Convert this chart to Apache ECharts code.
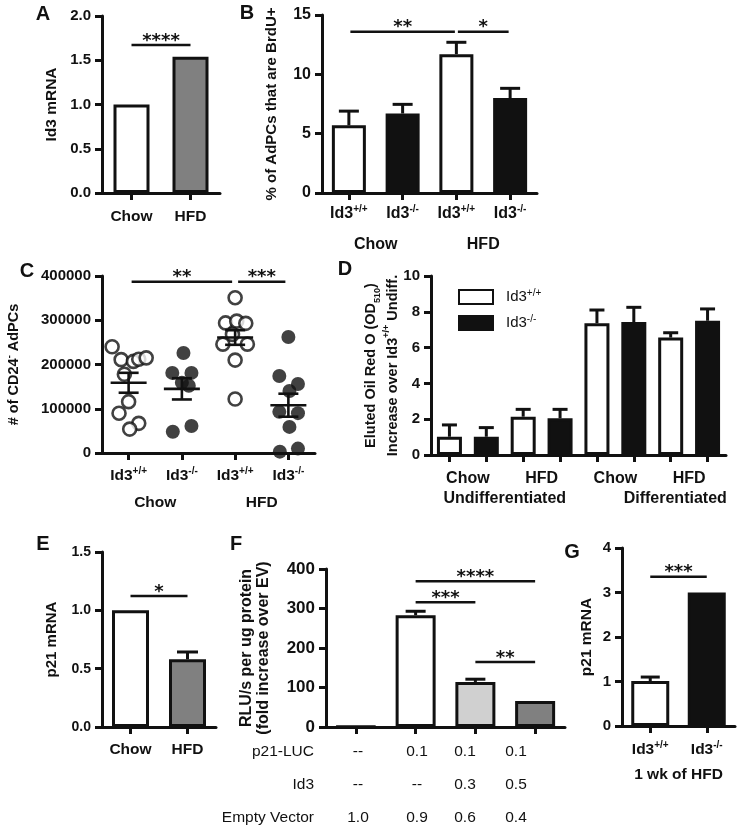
<!DOCTYPE html>
<html><head><meta charset="utf-8">
<script src="https://cdn.jsdelivr.net/npm/echarts@6/dist/echarts.min.js"></script>
<style>html,body{margin:0;padding:0;background:#fff}#c{width:737px;height:829px}</style>
</head><body><div id="c"></div>
<script>
// ---------------- data ----------------
const aCats = ['Chow', 'HFD'];
const aValues = [1.0, 1.54];
const aSig = [[0, 1, 1.672]];
const aSigLabels = ['****'];

const genoCats = ['Id3+/+', 'Id3-/-', 'Id3+/+', 'Id3-/-'];
const dietGroups = ['Chow', 'HFD'];

const bValues = [5.7, 6.7, 11.7, 8.0];
const bErrors = [1.2, 0.77, 1.0, 0.82];
const bSig = [[0, 2, 13.59], [2, 3, 13.59]];
const bSigLabels = ['**', '*'];

const cWtChowOffsets = [-0.31, -0.14, 0.09, 0.19, 0.33, -0.08, 0.0, -0.18, 0.19, 0.02];
const cWtChowValues = [240000, 211000, 207000, 212000, 215000, 178000, 116000, 90000, 67000, 54000];
const cKoChowOffsets = [0.03, -0.18, 0.18, 0.0, 0.13, -0.17, 0.18];
const cKoChowValues = [226000, 181000, 181000, 159000, 152000, 48000, 61000];
const cWtHfdOffsets = [0.0, -0.18, 0.03, 0.2, -0.23, 0.23, -0.05, 0.0, 0.0];
const cWtHfdValues = [351000, 294000, 298000, 293000, 246000, 246000, 268000, 210000, 122000];
const cKoHfdOffsets = [0.0, -0.17, 0.18, 0.02, -0.17, 0.18, 0.02, -0.16, 0.18];
const cKoHfdValues = [262000, 174000, 156000, 140000, 93000, 90000, 59000, 3000, 10000];
const cMeans = [158700, 145000, 261000, 108000];
const cSems = [22500, 24000, 16500, 26000];
const cSig = [[0, 2, 387000], [2, 3, 387000]];
const cSigLabels = ['**', '***'];

const dWtValues = [1.02, 2.14, 7.36, 6.56];
const dWtErrors = [0.66, 0.41, 0.74, 0.27];
const dKoValues = [1.02, 2.05, 7.43, 7.5];
const dKoErrors = [0.51, 0.5, 0.82, 0.66];
const dDiet = ['Chow', 'HFD', 'Chow', 'HFD'];
const dStages = ['Undifferentiated', 'Differentiated'];
const dLegend = ['Id3+/+', 'Id3-/-'];

const eCats = ['Chow', 'HFD'];
const eValues = [1.0, 0.58];
const eErrors = [0.0, 0.063];
const eSig = [[0, 1, 1.123]];
const eSigLabels = ['*'];

const fValues = [1, 283, 114, 66];
const fErrors = [0, 10, 7, 0];
const fSig = [[1, 3, 368.9], [1, 2, 315.7], [2, 3, 164.6]];
const fSigLabels = ['****', '***', '**'];
const fRowLabels = ['p21-LUC', 'Id3', 'Empty Vector'];
const fLuc = ['--', '0.1', '0.1', '0.1'];
const fId3 = ['--', '--', '0.3', '0.5'];
const fEmpty = ['1.0', '0.9', '0.6', '0.4'];

const gCats = ['Id3+/+', 'Id3-/-'];
const gValues = [1.01, 3.0];
const gErrors = [0.09, 0];
const gSig = [[0, 1, 3.355]];
const gSigLabels = ['***'];
const gGroup = ['1 wk of HFD'];

// ---------------- style / layout ----------------
const FONT = '"Liberation Sans", Arial, Helvetica, sans-serif';
const STARFONT = '"DejaVu Sans", sans-serif';
const INK = '#111111';
const WHITE = '#ffffff';
const GRAY = '#808080';
const LIGHT = '#d0d0d0';

const grids = [
  {left: 102, top: 16, width: 118, height: 177},   // A
  {left: 322, top: 15, width: 215, height: 178},   // B
  {left: 102, top: 276, width: 213, height: 177},  // C
  {left: 431, top: 276, width: 295, height: 179},  // D
  {left: 102, top: 552, width: 114, height: 175},  // E
  {left: 326, top: 569, width: 239, height: 158},  // F
  {left: 622, top: 548, width: 113, height: 178}   // G
];

function richFor(fs) {
  return {
    m: {fontSize: fs, fontWeight: 'bold', fontFamily: FONT, color: INK, lineHeight: fs + 3},
    s: {fontSize: Math.round(fs * 0.65), fontWeight: 'bold', fontFamily: FONT, color: INK, verticalAlign: 'top'},
    b: {fontSize: Math.round(fs * 0.65), fontWeight: 'bold', fontFamily: FONT, color: INK, verticalAlign: 'bottom'}
  };
}
function supFmt(v) {
  const m = /^Id3(.+)$/.exec(v);
  return m ? '{m|Id3}{s|' + m[1] + '}' : '{m|' + v + '}';
}

function catAxis(gridIndex, data, fs, margin, showLabel) {
  return {
    type: 'category', gridIndex, data, position: 'bottom', boundaryGap: true,
    axisLine: {show: true, onZero: false, lineStyle: {color: INK, width: 3}},
    axisTick: {show: true, alignWithLabel: true, interval: 0, length: 7, lineStyle: {color: INK, width: 3}},
    axisLabel: {show: showLabel !== false, interval: 0, margin, color: INK, fontSize: fs, fontWeight: 'bold',
      fontFamily: FONT, formatter: supFmt, rich: richFor(fs)},
    splitLine: {show: false}
  };
}
function groupAxis(gridIndex, data, fs, margin) {
  return {
    type: 'category', gridIndex, data, position: 'bottom', boundaryGap: true,
    axisLine: {show: false}, axisTick: {show: false}, splitLine: {show: false},
    axisLabel: {show: true, interval: 0, margin, color: INK, fontSize: fs, fontWeight: 'bold', fontFamily: FONT}
  };
}
function valAxis(gridIndex, max, interval, fs, dec, name, nameGap, nameFs, lineHeight) {
  return {
    type: 'value', gridIndex, min: 0, max, interval, position: 'left',
    axisLine: {show: true, onZero: false, lineStyle: {color: INK, width: 3}},
    axisTick: {show: true, length: 7, lineStyle: {color: INK, width: 3}},
    axisLabel: {show: true, margin: 11, color: INK, fontSize: fs, fontWeight: 'bold', fontFamily: FONT,
      formatter: v => v.toFixed(dec)},
    splitLine: {show: false},
    name, nameLocation: 'middle', nameGap, nameRotate: 90, nameMoveOverlap: false,
    nameTextStyle: {color: INK, fontSize: nameFs, fontWeight: 'bold', fontFamily: FONT,
      lineHeight: lineHeight || nameFs + 2, rich: richFor(nameFs)}
  };
}

// x axes
const xAxes = [
  catAxis(0, aCats, 15.5, 14),                 // 0 A
  catAxis(1, genoCats, 16, 11),                // 1 B
  groupAxis(1, dietGroups, 16, 44),            // 2 B groups
  catAxis(2, genoCats, 15.5, 13),              // 3 C
  groupAxis(2, dietGroups, 15.5, 42),          // 4 C groups
  {type: 'value', gridIndex: 2, min: -0.5, max: 3.5, show: false}, // 5 C scatter
  catAxis(3, ['', '', '', '', '', '', '', ''], 16, 16, false), // 6 D
  groupAxis(3, dDiet, 16, 16),                 // 7 D diet
  groupAxis(3, [dStages[0], {value: dStages[1], textStyle: {padding: [0, 0, 0, 46]}}], 16, 36), // 8 D stage
  catAxis(4, eCats, 15.5, 13),                 // 9 E
  catAxis(5, ['', '', '', ''], 16, 14, false), // 10 F
  catAxis(6, gCats, 15.5, 14),                 // 11 G
  groupAxis(6, gGroup, 15.5, 41)               // 12 G group
];

const yAxes = [
  valAxis(0, 2, 0.5, 15, 1, '{m|Id3 mRNA}', 41, 15.5),
  valAxis(1, 15, 5, 16, 0, '{m|% of AdPCs that are BrdU+}', 41, 15),
  valAxis(2, 400000, 100000, 15, 0, '{m|# of CD24}{s|-}{m| AdPCs}', 79, 14.5),
  valAxis(3, 10, 2, 15, 0, '{m|Eluted Oil Red O (OD}{b|510}{m|)}\n{m|Increase over Id3}{s|+/+}{m| Undiff.}', 27, 14.5, 22),
  valAxis(4, 1.5, 0.5, 14, 1, '{m|p21 mRNA}', 41, 15),
  valAxis(5, 400, 100, 17, 0, '{m|RLU/s per ug protein}\n{m|(fold increase over EV)}', 54, 16, 17),
  valAxis(6, 4, 1, 15, 0, '{m|p21 mRNA}', 26, 15.5)
];
yAxes[3].nameTextStyle.rich.m.lineHeight = 22;
yAxes[3].nameTextStyle.rich.s.lineHeight = 22;
yAxes[3].nameTextStyle.rich.b.lineHeight = 22;
yAxes[5].nameTextStyle.rich.m.lineHeight = 17;

// ---------------- series helpers ----------------
function barSeries(xi, yi, values, colors, barWidth, extra) {
  return Object.assign({
    type: 'bar', xAxisIndex: xi, yAxisIndex: yi, barWidth, z: 3, silent: true,
    itemStyle: {borderColor: INK, borderWidth: 3},
    data: values.map((v, i) => ({value: v, itemStyle: {color: colors[i]}}))
  }, extra || {});
}
function errorSeries(xi, yi, rows, capW) {
  return {
    type: 'custom', xAxisIndex: xi, yAxisIndex: yi, z: 2, silent: true,
    data: rows, encode: {x: 0, y: [1, 2]},
    renderItem(params, api) {
      const i = api.value(0);
      const p1 = api.coord([i, api.value(1)]);
      const p2 = api.coord([i, api.value(2)]);
      if (p1[1] - p2[1] < 1) return null;
      return {type: 'group', children: [
        {type: 'line', shape: {x1: p1[0], y1: p1[1], x2: p2[0], y2: p2[1]}, style: {stroke: INK, lineWidth: 3}},
        {type: 'line', shape: {x1: p2[0] - capW / 2, y1: p2[1], x2: p2[0] + capW / 2, y2: p2[1]}, style: {stroke: INK, lineWidth: 3}}
      ]};
    }
  };
}
function errRows(values, errors, idx) {
  return values.map((v, i) => [idx ? idx(i) : i, v, v + errors[i]]);
}
function sigSeries(xi, yi, rows, labels, gap) {
  return {
    type: 'custom', xAxisIndex: xi, yAxisIndex: yi, z: 4, silent: true,
    data: rows, encode: {x: [0, 1], y: 2},
    renderItem(params, api) {
      const a = api.coord([api.value(0), api.value(2)]);
      const b = api.coord([api.value(1), api.value(2)]);
      return {type: 'group', children: [
        {type: 'line', shape: {x1: a[0] + gap, y1: a[1], x2: b[0] - gap, y2: b[1]}, style: {stroke: INK, lineWidth: 2.5}},
        {type: 'text', x: (a[0] + b[0]) / 2, y: a[1] + 5,
          style: {text: labels[params.dataIndex], fill: INK, fontSize: 18, fontWeight: 'bold', fontFamily: STARFONT, align: 'center', verticalAlign: 'bottom'}}
      ]};
    }
  };
}
function scatterSeries(offsets, values, g, open) {
  return {
    type: 'scatter', xAxisIndex: 5, yAxisIndex: 2, z: 3, silent: true,
    symbol: 'circle', symbolSize: open ? 13 : 14,
    itemStyle: open ? {color: WHITE, borderColor: INK, borderWidth: 2.6} : {color: INK, borderColor: INK, borderWidth: 0},
    data: values.map((v, i) => [g + offsets[i], v])
  };
}

const seriesList = [
  // A
  barSeries(0, 0, aValues, [WHITE, GRAY], 36),
  sigSeries(0, 0, aSig, aSigLabels, 0),
  // B
  barSeries(1, 1, bValues, [WHITE, INK, WHITE, INK], 34),
  errorSeries(1, 1, errRows(bValues, bErrors), 20),
  sigSeries(1, 1, bSig, bSigLabels, 1.5),
  // C
  scatterSeries(cWtChowOffsets, cWtChowValues, 0, true),
  scatterSeries(cKoChowOffsets, cKoChowValues, 1, false),
  scatterSeries(cWtHfdOffsets, cWtHfdValues, 2, true),
  scatterSeries(cKoHfdOffsets, cKoHfdValues, 3, false),
  {
    type: 'custom', xAxisIndex: 3, yAxisIndex: 2, z: 5, silent: true,
    data: cMeans.map((m, i) => [i, m, m - cSems[i], m + cSems[i]]),
    encode: {x: 0, y: [1, 2, 3]},
    renderItem(params, api) {
      const i = api.value(0);
      const pm = api.coord([i, api.value(1)]);
      const pl = api.coord([i, api.value(2)]);
      const ph = api.coord([i, api.value(3)]);
      const st = {stroke: INK, lineWidth: 2.6};
      return {type: 'group', children: [
        {type: 'line', shape: {x1: pm[0] - 18, y1: pm[1], x2: pm[0] + 18, y2: pm[1]}, style: st},
        {type: 'line', shape: {x1: pl[0], y1: pl[1], x2: ph[0], y2: ph[1]}, style: st},
        {type: 'line', shape: {x1: pl[0] - 10, y1: pl[1], x2: pl[0] + 10, y2: pl[1]}, style: st},
        {type: 'line', shape: {x1: ph[0] - 10, y1: ph[1], x2: ph[0] + 10, y2: ph[1]}, style: st}
      ]};
    }
  },
  sigSeries(3, 2, cSig, cSigLabels, 3),
  // D
  {
    name: dLegend[0], type: 'bar', xAxisIndex: 6, yAxisIndex: 3, stack: 'd', barWidth: 25, z: 3, silent: true,
    itemStyle: {color: WHITE, borderColor: INK, borderWidth: 3},
    data: [0, 1, 2, 3, 4, 5, 6, 7].map(k => k % 2 === 0 ? dWtValues[k / 2] : '-')
  },
  {
    name: dLegend[1], type: 'bar', xAxisIndex: 6, yAxisIndex: 3, stack: 'd', barWidth: 25, z: 3, silent: true,
    itemStyle: {color: INK, borderColor: INK, borderWidth: 3},
    data: [0, 1, 2, 3, 4, 5, 6, 7].map(k => k % 2 === 1 ? dKoValues[(k - 1) / 2] : '-')
  },
  errorSeries(6, 3, errRows(dWtValues, dWtErrors, i => 2 * i).concat(errRows(dKoValues, dKoErrors, i => 2 * i + 1)), 15),
  // E
  barSeries(9, 4, eValues, [WHITE, GRAY], 37),
  errorSeries(9, 4, errRows(eValues, eErrors), 21),
  sigSeries(9, 4, eSig, eSigLabels, 0),
  // F
  barSeries(10, 5, fValues, [WHITE, WHITE, LIGHT, GRAY], 40),
  errorSeries(10, 5, errRows(fValues, fErrors), 20),
  sigSeries(10, 5, fSig, fSigLabels, 0),
  // G
  barSeries(11, 6, gValues, [WHITE, INK], 38),
  errorSeries(11, 6, errRows(gValues, gErrors), 19),
  sigSeries(11, 6, gSig, gSigLabels, 0)
];

// ---------------- graphics: panel letters & F table ----------------
const letters = [['A', 43, 14], ['B', 247, 13], ['C', 27, 271], ['D', 345, 269], ['E', 43, 544], ['F', 236, 544], ['G', 572, 552]];
const fColX = [358, 417, 465, 516];
const fRowY = [752, 785, 818];
const graphics = [];
letters.forEach(([t, x, y]) => graphics.push({type: 'text', x, y, silent: true,
  style: {text: t, fill: INK, fontSize: 20, fontWeight: 'bold', fontFamily: FONT, align: 'center', verticalAlign: 'middle'}}));
fRowLabels.forEach((t, r) => graphics.push({type: 'text', x: 314, y: fRowY[r], silent: true,
  style: {text: t, fill: INK, fontSize: 15.5, fontFamily: FONT, align: 'right', verticalAlign: 'middle'}}));
[fLuc, fId3, fEmpty].forEach((row, r) => row.forEach((t, c) => graphics.push({type: 'text', x: fColX[c], y: fRowY[r], silent: true,
  style: {text: t, fill: INK, fontSize: 15.5, fontFamily: FONT, align: 'center', verticalAlign: 'middle'}})));

const chart = echarts.init(document.getElementById('c'), null, {renderer: 'canvas'});
chart.setOption({
  animation: false,
  backgroundColor: '#ffffff',
  textStyle: {fontFamily: FONT},
  grid: grids.map(g => Object.assign({outerBoundsMode: 'none', containLabel: false}, g)),
  xAxis: xAxes,
  yAxis: yAxes,
  legend: {
    show: true, orient: 'vertical', left: 458, top: 288, padding: 0, itemWidth: 34, itemHeight: 14, itemGap: 9,
    icon: 'rect', selectedMode: false, data: dLegend,
    textStyle: {color: INK, fontSize: 15, fontFamily: FONT, padding: [0, 0, 0, 8], rich: {
      m: {fontSize: 15, fontFamily: FONT, color: INK, lineHeight: 18},
      s: {fontSize: 10, fontFamily: FONT, color: INK, verticalAlign: 'top'}}},
    formatter: n => '{m|Id3}{s|' + n.slice(3) + '}'
  },
  series: seriesList,
  graphic: graphics
});
</script>
</body></html>
